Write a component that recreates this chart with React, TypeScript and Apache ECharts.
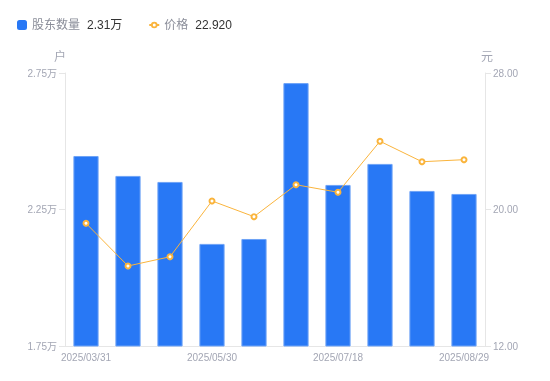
import React, { useEffect, useRef } from "react";
import * as echarts from "echarts";

const categories = [
  "2025/03/31", "2025/04/18", "2025/04/30", "2025/05/30", "2025/06/20",
  "2025/06/30", "2025/07/18", "2025/07/31", "2025/08/20", "2025/08/29",
];
const holders = [24460, 23730, 23510, 21240, 21420, 27130, 23400, 24170, 23180, 23070];
const prices = [19.19, 16.69, 17.23, 20.5, 19.58, 21.45, 21.01, 24.0, 22.8, 22.92];
const leftTicks = [17500, 22500, 27500];
const rightTicks = [12, 20, 28];

const FONT = 'Arial, "Liberation Sans", "Noto Sans CJK SC", sans-serif';
const BLUE = "#2878f5";
const ORANGE = "#fab43c";
const GREY = "#a3a6b4";
const LINE = "#e6e6e6";

export default function App() {
  const ref = useRef<HTMLDivElement>(null);
  useEffect(() => {
    if (!ref.current) return;
    const chart = echarts.init(ref.current, null, { renderer: "svg" });
    const lastHolder = (holders[holders.length - 1] / 10000).toFixed(2) + "万";
    const lastPrice = prices[prices.length - 1].toFixed(3);
    chart.setOption({
      animation: false,
      textStyle: { fontFamily: FONT },
      legend: {
        left: 12,
        top: 14,
        itemWidth: 10,
        itemHeight: 10,
        itemGap: 26,
        data: [
          {
            name: "股东数量",
            icon: "roundRect",
            itemStyle: { color: BLUE, borderWidth: 0 },
          },
          {
            name: "价格",
            icon: "path://M0,5L2.6,5M7.4,5L10,5M5,2.6A2.4,2.4 0 1,0 5,7.4A2.4,2.4 0 1,0 5,2.6Z",
            itemStyle: { color: "#fff", borderColor: ORANGE, borderWidth: 1.8 },
          },
        ],
        formatter: (name: string) =>
          name === "股东数量" ? `{a|${name}}{b|${lastHolder}}` : `{a|${name}}{b|${lastPrice}}`,
        textStyle: {
          rich: {
            a: { color: "#8a8d99", fontSize: 12, fontFamily: FONT, padding: [0, 7, 0, 0] },
            b: { color: "#333", fontSize: 12, fontFamily: FONT },
          },
        },
      },
      grid: { left: 65, right: 65, top: 73, bottom: 35 },
      xAxis: {
        type: "category",
        data: categories,
        axisLine: { lineStyle: { color: LINE } },
        axisTick: { show: false },
        axisLabel: { color: GREY, fontSize: 10, interval: 2, margin: 6, fontFamily: FONT },
      },
      yAxis: [
        {
          type: "value",
          min: 17500,
          max: 27500,
          name: "户",
          nameTextStyle: { color: GREY, fontSize: 12, padding: [0, 10, 0, 0] },
          nameGap: 10,
          axisLine: { show: true, lineStyle: { color: LINE } },
          axisTick: { show: true, length: 6, lineStyle: { color: LINE }, customValues: leftTicks },
          splitLine: { show: false },
          axisLabel: {
            color: GREY,
            fontSize: 10,
            margin: 8,
            fontFamily: FONT,
            customValues: leftTicks,
            formatter: (v: number) => (v / 10000).toFixed(2) + "万",
          },
        },
        {
          type: "value",
          min: 12,
          max: 28,
          name: "元",
          nameTextStyle: { color: GREY, fontSize: 12, padding: [0, 0, 0, 4] },
          nameGap: 10,
          axisLine: { show: true, lineStyle: { color: LINE } },
          axisTick: { show: true, length: 6, lineStyle: { color: LINE }, customValues: rightTicks },
          splitLine: { show: false },
          axisLabel: {
            color: GREY,
            fontSize: 10,
            margin: 8,
            fontFamily: FONT,
            customValues: rightTicks,
            formatter: (v: number) => v.toFixed(2),
          },
        },
      ],
      series: [
        {
          name: "股东数量",
          type: "bar",
          data: holders,
          barWidth: "60%",
          itemStyle: { color: BLUE, borderColor: "#6fa4f7", borderWidth: 1 },
        },
        {
          name: "价格",
          type: "line",
          yAxisIndex: 1,
          data: prices,
          symbol: "circle",
          symbolSize: 5,
          lineStyle: { color: ORANGE, width: 1 },
          itemStyle: { color: "#fff", borderColor: ORANGE, borderWidth: 2 },
        },
      ],
    });
    return () => chart.dispose();
  }, []);
  return (
    <div
      ref={ref}
      style={{ position: "fixed", left: 0, top: 0, width: 550, height: 381 }}
    />
  );
}
